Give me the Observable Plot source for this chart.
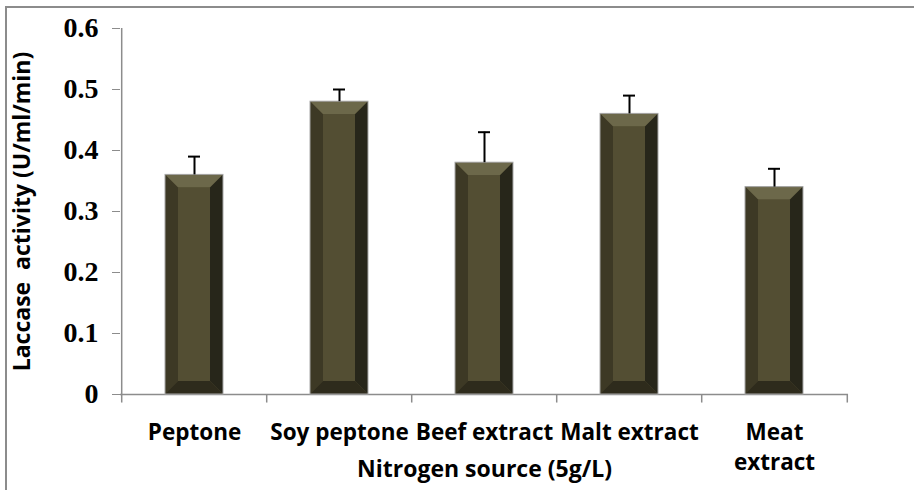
<!DOCTYPE html>
<html>
<head>
<meta charset="utf-8">
<script src="https://cdn.jsdelivr.net/npm/d3@7"></script>
<script src="https://cdn.jsdelivr.net/npm/@observablehq/plot@0.6"></script>
<style>
  html, body { margin: 0; padding: 0; background: #fff; }
  #wrap { position: relative; width: 914px; height: 490px; overflow: hidden; }
  #frame { position: absolute; left: 5px; top: 6px; width: 920px; height: 500px;
           border-left: 2px solid #8c8c8c; border-top: 2px solid #8c8c8c; pointer-events: none; }
  #chart { position: absolute; left: 0; top: 0; }
</style>
</head>
<body>
<div id="wrap"><div id="chart"></div><div id="frame"></div></div>
<script>
// ---- data ----
const categories = ["Peptone", "Soy peptone", "Beef extract", "Malt extract", "Meat extract"];
const tickLabels = ["Peptone", "Soy peptone", "Beef extract", "Malt extract", "Meat\nextract"];
const activity = [0.36, 0.48, 0.38, 0.46, 0.34];
const errorPlus = [0.03, 0.02, 0.05, 0.03, 0.03];
const yTicks = [0, 0.1, 0.2, 0.3, 0.4, 0.5, 0.6];
const xTitle = "Nitrogen source (5g/L)";
const yTitle = "Laccase  activity (U/ml/min)";

const data = categories.map((c, i) => ({cat: c, value: activity[i], err: errorPlus[i], label: tickLabels[i]}));

const W = 914, H = 490;
const mL = 120, mR = 66, mT = 28, mB = 96;
const step = (W - mL - mR) / categories.length;
const sans = "'Open Sans', 'Noto Sans', sans-serif";
const serif = "'Liberation Serif', 'DejaVu Serif', serif";

function bevel(index, scales, values, dimensions, context, next) {
  const g = next(index, scales, values, dimensions, context);
  const ns = "http://www.w3.org/2000/svg";
  const rects = Array.from(g.querySelectorAll("rect"));
  const b = 13;
  for (const r of rects) {
    const x0 = +r.getAttribute("x"), y0 = +r.getAttribute("y");
    const x1 = x0 + +r.getAttribute("width"), y1 = y0 + +r.getAttribute("height");
    const polys = [
      [[x0,y0],[x1,y0],[x1-b,y0+b],[x0+b,y0+b], "#6c684a"],
      [[x0,y0],[x0+b,y0+b],[x0+b,y1-b],[x0,y1], "#3d3925"],
      [[x1,y0],[x1,y1],[x1-b,y1-b],[x1-b,y0+b], "#27261a"],
      [[x0,y1],[x0+b,y1-b],[x1-b,y1-b],[x1,y1], "#2e2b1c"]
    ];
    for (const p of polys) {
      const el = document.createElementNS(ns, "polygon");
      el.setAttribute("points", p.slice(0,4).map(q => q.join(",")).join(" "));
      el.setAttribute("fill", p[4]);
      g.appendChild(el);
    }
    const face = document.createElementNS(ns, "rect");
    face.setAttribute("x", x0 + b); face.setAttribute("y", y0 + b);
    face.setAttribute("width", Math.max(0, x1 - x0 - 2*b)); face.setAttribute("height", Math.max(0, y1 - y0 - 2*b));
    face.setAttribute("fill", "#534e33");
    g.appendChild(face);
    const outline = document.createElementNS(ns, "rect");
    outline.setAttribute("x", x0); outline.setAttribute("y", y0);
    outline.setAttribute("width", x1 - x0); outline.setAttribute("height", y1 - y0);
    outline.setAttribute("fill", "none"); outline.setAttribute("stroke", "#a8a8a8"); outline.setAttribute("stroke-width", 1);
    g.appendChild(outline);
  }
  return g;
}

const last = categories[categories.length - 1];

const chart = Plot.plot({
  width: W, height: H,
  marginLeft: mL, marginRight: mR, marginTop: mT, marginBottom: mB,
  style: {background: "transparent", overflow: "visible"},
  x: {domain: categories, paddingInner: 0.6, paddingOuter: 0.3, axis: null},
  y: {domain: [0, 0.6], axis: null},
  marks: [
    // y axis
    Plot.axisY({ticks: yTicks, tickSize: 8, tickPadding: 14, stroke: "#8c8c8c", fill: "black",
      tickFormat: d => d === 0 ? "0" : d.toFixed(1), fontSize: 28, fontWeight: "bold",
      fontFamily: serif, label: null}),
    Plot.ruleX([categories[0]], {x: d => d, y1: 0, y2: 0.6, dx: -step / 2, stroke: "#8c8c8c", strokeWidth: 1.5}),
    // x axis line and boundary ticks
    Plot.ruleY([0], {stroke: "#8c8c8c", strokeWidth: 1.5}),
    Plot.ruleX(categories, {x: d => d, y1: 0, y2: -0.014, dx: -step / 2, stroke: "#8c8c8c", strokeWidth: 1.5}),
    Plot.ruleX([last], {x: d => d, y1: 0, y2: -0.014, dx: step / 2, stroke: "#8c8c8c", strokeWidth: 1.5}),
    // bars
    Plot.barY(data, {x: "cat", y: "value", fill: "#534e33", render: bevel}),
    // error bars (upper only)
    Plot.ruleX(data, {x: "cat", y1: "value", y2: d => d.value + d.err, stroke: "black", strokeWidth: 2}),
    Plot.tickY(data, {x: "cat", y: d => d.value + d.err, stroke: "black", strokeWidth: 2, insetLeft: 23, insetRight: 23}),
    // x tick labels
    Plot.text(data, {x: "cat", y: () => 0, text: "label", dy: 24, lineAnchor: "top", lineHeight: 1.33,
      fontSize: 22.5, fontWeight: "bold", fontFamily: sans, fill: "black"}),
    // titles
    Plot.text([xTitle], {frameAnchor: "bottom", dy: 82, text: d => d, fontSize: 23, fontWeight: "bold", fontFamily: sans, fill: "black"}),
    Plot.text([yTitle], {frameAnchor: "left", dx: -98, rotate: -90, textAnchor: "middle", text: d => d, fontSize: 23, fontWeight: "bold", fontFamily: sans, fill: "black"})
  ]
});
document.getElementById("chart").appendChild(chart);
</script>
</body>
</html>
